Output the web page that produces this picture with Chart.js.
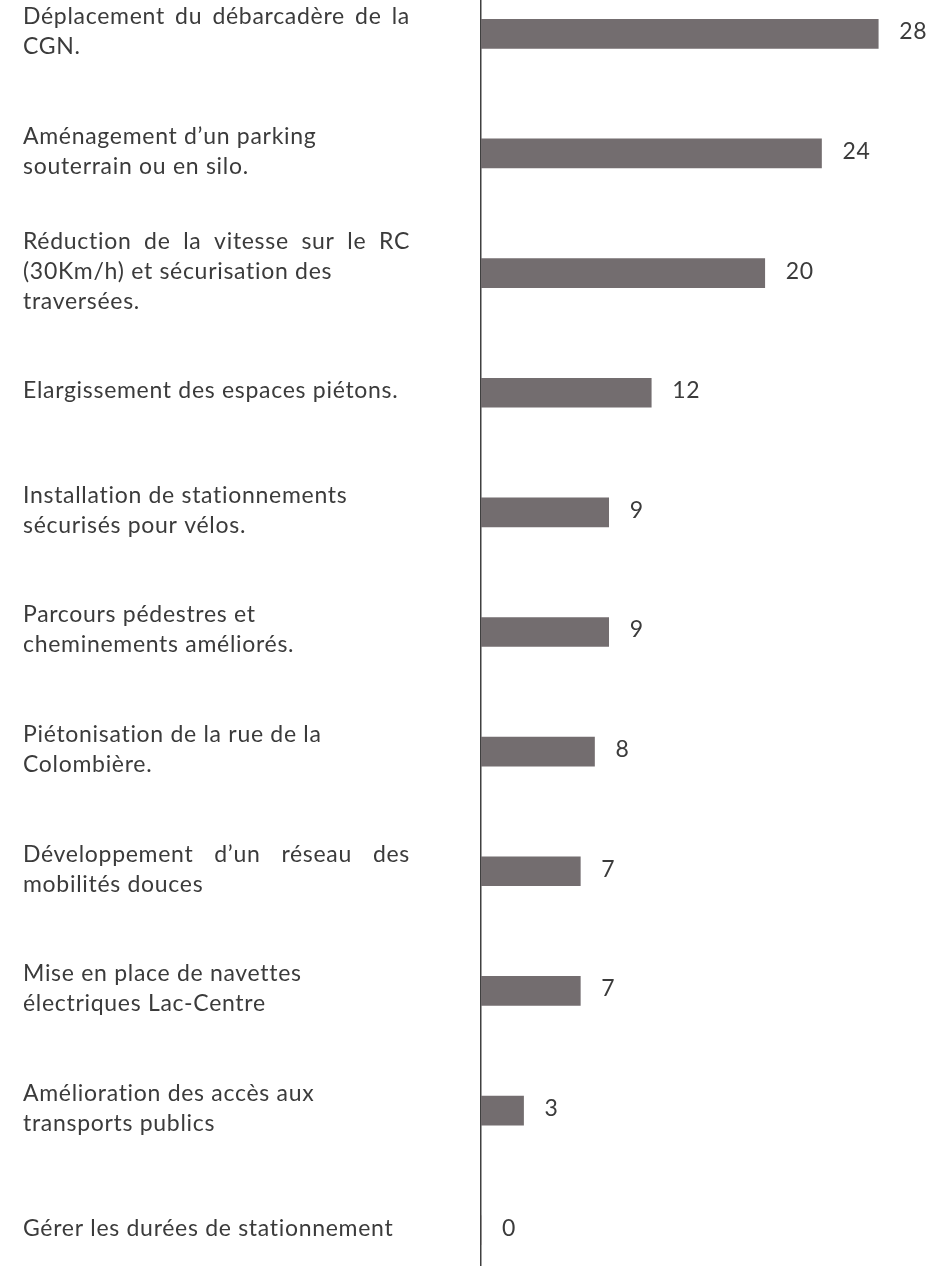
<!DOCTYPE html>
<html lang="fr">
<head>
<meta charset="utf-8">
<title>Propositions</title>
<script src="https://cdn.jsdelivr.net/npm/chart.js@4.4.1/dist/chart.umd.min.js"></script>
<style>
  html, body { margin: 0; padding: 0; background: #fff; overflow: hidden; }
  #wrap { position: absolute; left: 0; top: -26px; width: 944px; height: 1316px; }
</style>
</head>
<body>
<div id="wrap"><canvas id="chart"></canvas></div>
<script>
// Data
const categories = [
  ["Déplacement du débarcadère de la", "CGN."],
  ["Aménagement d’un parking", "souterrain ou en silo."],
  ["Réduction de la vitesse sur le RC", "(30Km/h) et sécurisation des", "traversées."],
  ["Elargissement des espaces piétons."],
  ["Installation de stationnements", "sécurisés pour vélos."],
  ["Parcours pédestres et", "cheminements améliorés."],
  ["Piétonisation de la rue de la", "Colombière."],
  ["Développement d’un réseau des", "mobilités douces"],
  ["Mise en place de navettes", "électriques Lac-Centre"],
  ["Amélioration des accès aux", "transports publics"],
  ["Gérer les durées de stationnement"]
];
const justified = [true, false, true, false, false, false, false, true, false, false, false];
const values = [28, 24, 20, 12, 9, 9, 8, 7, 7, 3, 0];

const FONT = '23px Lato';
const SPACING = '0.7px';
const TEXT = '#3b3b3b';

// left side labels, drawn at the category positions of the y scale
const categoryLabels = {
  id: 'categoryLabels',
  afterDraw(chart) {
    const ctx = chart.ctx;
    const y = chart.scales.y;
    ctx.save();
    ctx.font = FONT;
    ctx.letterSpacing = SPACING;
    ctx.fillStyle = TEXT;
    ctx.textBaseline = 'middle';
    ctx.textAlign = 'left';
    const left = 23, right = 410, lh = 30;
    categories.forEach((lines, i) => {
      const cy = y.getPixelForTick(i) - 2;
      const top = cy - (lines.length - 1) * lh / 2;
      lines.forEach((line, j) => {
        const ly = top + j * lh;
        if (justified[i] && j === 0) {
          const words = line.split(' ');
          const widths = words.map(w => ctx.measureText(w).width);
          const total = widths.reduce((a, b) => a + b, 0);
          const gap = (right - left - total) / (words.length - 1);
          let x = left;
          words.forEach((w, k) => {
            ctx.fillText(w, x, ly);
            x += widths[k] + gap;
          });
        } else {
          ctx.fillText(line, left, ly);
        }
      });
    });
    ctx.restore();
  }
};

// value labels right of each bar
const valueLabels = {
  id: 'valueLabels',
  afterDatasetsDraw(chart) {
    const ctx = chart.ctx;
    const meta = chart.getDatasetMeta(0);
    ctx.save();
    ctx.font = FONT;
    ctx.letterSpacing = SPACING;
    ctx.fillStyle = TEXT;
    ctx.textBaseline = 'middle';
    ctx.textAlign = 'left';
    meta.data.forEach((bar, i) => {
      ctx.fillText(String(values[i]), bar.x + 21, bar.y - 2);
    });
    ctx.restore();
  }
};

const ctx = document.getElementById('chart').getContext('2d');
const chart = new Chart(ctx, {
  type: 'bar',
  data: {
    labels: categories.map(l => l.join(' ')),
    datasets: [{
      data: values,
      backgroundColor: '#736d6f',
      borderWidth: 0,
      barThickness: 29
    }]
  },
  options: {
    indexAxis: 'y',
    responsive: true,
    maintainAspectRatio: false,
    animation: false,
    layout: { padding: { left: 473, right: 9, top: 0, bottom: 0 } },
    plugins: {
      legend: { display: false },
      tooltip: { enabled: false }
    },
    scales: {
      x: {
        display: false,
        min: 0,
        max: 32
      },
      y: {
        ticks: { display: false },
        grid: { display: false },
        border: { display: true, color: '#404040', width: 1.5 }
      }
    }
  },
  plugins: [categoryLabels, valueLabels]
});
</script>
</body>
</html>
